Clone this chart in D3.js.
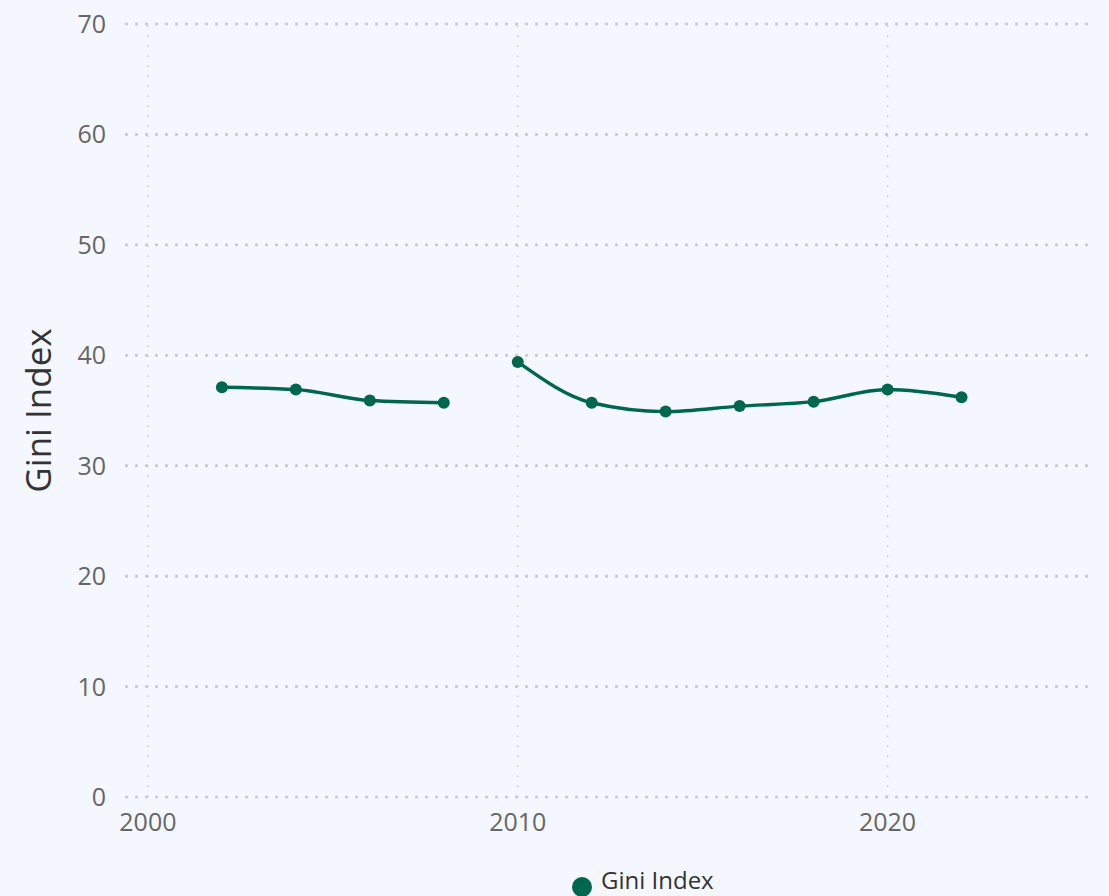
<!DOCTYPE html>
<html>
<head>
<meta charset="utf-8">
<script src="https://cdn.jsdelivr.net/npm/d3@7"></script>
<style>
  html, body { margin: 0; padding: 0; background: #f4f8fe; }
  svg { display: block; font-family: "Open Sans", "DejaVu Sans", sans-serif; }
</style>
</head>
<body>
<svg id="chart"></svg>
<script>
"use strict";

// values (null = no survey that year, line breaks)
const years = [2002, 2004, 2006, 2008, 2009, 2010, 2012, 2014, 2016, 2018, 2020, 2022];
const gini = [37.1, 36.9, 35.9, 35.7, null, 39.4, 35.7, 34.9, 35.4, 35.8, 36.9, 36.2];
const xTicks = [2000, 2010, 2020];
const yTicks = [0, 10, 20, 30, 40, 50, 60, 70];
const seriesName = "Gini Index";

const width = 1109;
const height = 896;
const colors = { line: "#00664e", grid: "#c8c8c8", tick: "#666", text: "#333", bg: "#f4f8fe" };

const data = years.map((y, i) => ({ year: y, value: gini[i] }));

const svg = d3.select("#chart")
  .attr("width", width)
  .attr("height", height)
  .style("background", colors.bg);

const x = d3.scaleLinear().domain([1999.38, 2025.42]).range([125, 1088]);
const y = d3.scaleLinear().domain([0, 70]).range([797, 24]);

// vertical grid (fine dots)
svg.append("g")
  .selectAll("line")
  .data(xTicks)
  .join("line")
  .attr("x1", d => x(d)).attr("x2", d => x(d))
  .attr("y1", y(0)).attr("y2", y(70))
  .attr("stroke", colors.grid)
  .attr("stroke-width", 1.5)
  .attr("stroke-dasharray", "1.5 8.5");

// horizontal grid (round dots)
svg.append("g")
  .selectAll("line")
  .data(yTicks)
  .join("line")
  .attr("x1", x.range()[0] + 1.5).attr("x2", x.range()[1])
  .attr("y1", d => y(d)).attr("y2", d => y(d))
  .attr("stroke", colors.grid)
  .attr("stroke-width", 3.2)
  .attr("stroke-linecap", "round")
  .attr("stroke-dasharray", "0 10");

// y tick labels
svg.append("g")
  .selectAll("text")
  .data(yTicks)
  .join("text")
  .attr("x", 106)
  .attr("y", d => y(d))
  .attr("dy", "0.36em")
  .attr("text-anchor", "end")
  .style("font-size", "25px")
  .style("fill", colors.tick)
  .text(d => d);

// x tick labels
svg.append("g")
  .selectAll("text")
  .data(xTicks)
  .join("text")
  .attr("x", d => x(d))
  .attr("y", 831)
  .attr("text-anchor", "middle")
  .style("font-size", "25px")
  .style("fill", colors.tick)
  .text(d => d);

// y axis title
svg.append("text")
  .attr("transform", `translate(51,${(y(0) + y(70)) / 2}) rotate(-90)`)
  .attr("text-anchor", "middle")
  .style("font-size", "35px")
  .style("fill", colors.text)
  .text(seriesName);

const line = d3.line()
  .defined(d => d.value != null)
  .x(d => x(d.year))
  .y(d => y(d.value))
  .curve(d3.curveMonotoneX);

svg.append("path")
  .datum(data)
  .attr("fill", "none")
  .attr("stroke", colors.line)
  .attr("stroke-width", 3.4)
  .attr("d", line);

svg.append("g")
  .selectAll("circle")
  .data(data.filter(d => d.value != null))
  .join("circle")
  .attr("cx", d => x(d.year))
  .attr("cy", d => y(d.value))
  .attr("r", 6)
  .attr("fill", colors.line);

// legend
const legend = svg.append("g").attr("transform", "translate(582,887)");
legend.append("circle").attr("r", 10).attr("fill", colors.line);
legend.append("text")
  .attr("x", 19)
  .attr("y", 2)
  .style("font-size", "24px")
  .style("fill", colors.text)
  .text(seriesName);
</script>
</body>
</html>
